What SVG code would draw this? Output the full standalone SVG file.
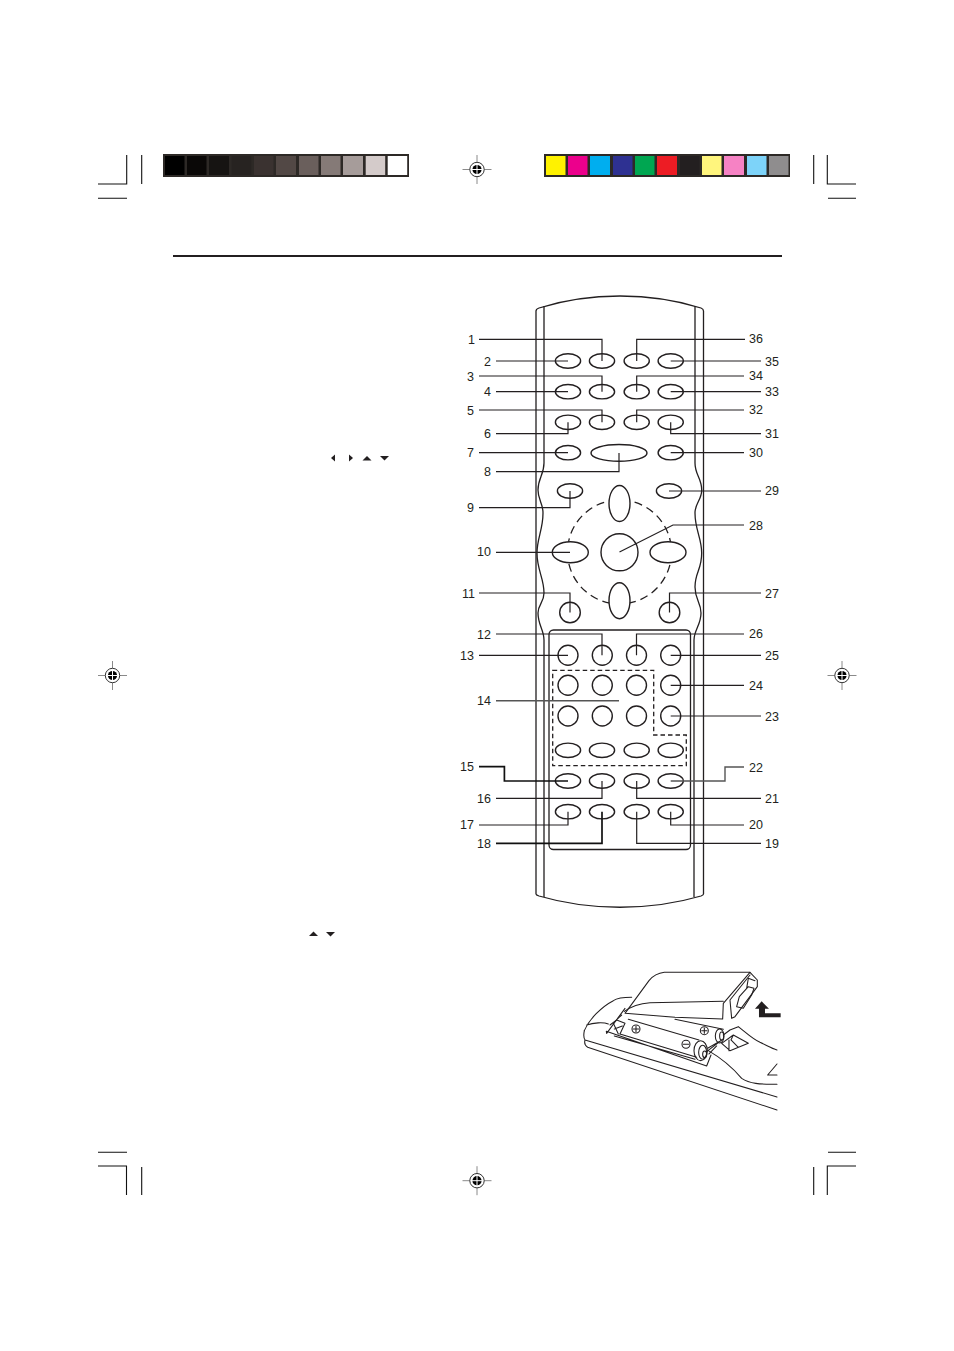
<svg xmlns="http://www.w3.org/2000/svg" width="954" height="1351" viewBox="0 0 954 1351">
<style>
text{font-family:"Liberation Sans",Arial,sans-serif;font-size:12.5px;fill:#231f20}
.l{text-anchor:end}
.s{fill:none;stroke:#231f20;stroke-width:1.3}
.b{fill:#fff;stroke:#231f20;stroke-width:1.4}
.c{fill:none;stroke:#231f20;stroke-width:1.2}
.k{fill:none;stroke:#111;stroke-width:1.7}
.g{fill:none;stroke:#555;stroke-width:1.4}
.m{fill:none;stroke:#111;stroke-width:1.1}
.t{fill:#231f20}
.d{fill:none;stroke:#231f20;stroke-width:1.3;stroke-dasharray:8 5}
.p{fill:none;stroke:#231f20;stroke-width:1.3;stroke-dasharray:4.5 3}
.i{fill:none;stroke:#231f20;stroke-width:3.2;stroke-linejoin:round;stroke-linecap:round}
.w{fill:#fff;stroke:#231f20;stroke-width:3.2;stroke-linejoin:round;stroke-linecap:round}
</style>
<defs>
<g id="reg">
<path d="M-14.5 0H14.5M0-14.5V14.5" fill="none" stroke="#8a8a8a" stroke-width="1"/>
<circle r="7.2" fill="#fff" stroke="#333" stroke-width="1"/>
<circle r="4.6" fill="#000"/>
<path d="M-5 0H5M0-5V5" stroke="#fff" stroke-width="1"/>
</g>
<ellipse id="e" rx="12.6" ry="7.2" class="b"/>
<circle id="o" r="10" class="b"/>
</defs>

<g id="print-marks">
<path class="m" d="M98 184H126.7V155M141.7 155V184M98 198.3H127M813.7 155V184M827.3 155V184H856M828 198.3H856M98 1152.3H127M98 1166H126.5V1195M141.7 1167V1195M813.7 1167V1195M856 1152.3H828M856 1166H827.3V1195"/>
<use href="#reg" x="477" y="169.5"/>
<use href="#reg" x="477" y="1180.7"/>
<use href="#reg" x="112.5" y="675.5"/>
<use href="#reg" x="842" y="675.5"/>
</g>

<g id="gray-bar">
<rect x="163" y="154" width="246" height="23" fill="#2d2926"/>
<rect x="165" y="156" width="19.5" height="19" fill="#000"/>
<rect x="187" y="156" width="19.5" height="19" fill="#0a0807"/>
<rect x="209" y="156" width="20" height="19" fill="#161412"/>
<rect x="231.7" y="156" width="19.5" height="19" fill="#272321"/>
<rect x="254" y="156" width="19.5" height="19" fill="#3a3230"/>
<rect x="276" y="156" width="20" height="19" fill="#524845"/>
<rect x="299" y="156" width="19.5" height="19" fill="#6a5f5c"/>
<rect x="321" y="156" width="19.5" height="19" fill="#857a77"/>
<rect x="343" y="156" width="20" height="19" fill="#a69c9a"/>
<rect x="365.7" y="156" width="19.5" height="19" fill="#d4cbca"/>
<rect x="387.7" y="156" width="19.5" height="19" fill="#fff"/>
</g>
<g id="color-bar">
<rect x="544" y="154" width="246" height="23" fill="#2d2926"/>
<rect x="546" y="156" width="19.5" height="19" fill="#fff200"/>
<rect x="568" y="156" width="19.5" height="19" fill="#ec008c"/>
<rect x="590" y="156" width="20" height="19" fill="#00aeef"/>
<rect x="613" y="156" width="19.5" height="19" fill="#2e3192"/>
<rect x="635" y="156" width="19.5" height="19" fill="#00a651"/>
<rect x="657" y="156" width="20" height="19" fill="#ed1c24"/>
<rect x="680" y="156" width="19.5" height="19" fill="#231f20"/>
<rect x="702" y="156" width="19.5" height="19" fill="#fff57d"/>
<rect x="724" y="156" width="20" height="19" fill="#f682c4"/>
<rect x="747" y="156" width="19.5" height="19" fill="#7dd3f9"/>
<rect x="769" y="156" width="19.5" height="19" fill="#8f8d8e"/>
</g>

<rect id="rule" x="173" y="255" width="609" height="2" fill="#231f20"/>

<g id="arrow-glyphs">
<polygon class="t" points="331,458 335,454.5 335,461.5"/>
<polygon class="t" points="349,454.5 353,458 349,461.5"/>
<polygon class="t" points="362.5,460.5 367,456 371.5,460.5"/>
<polygon class="t" points="380,456 389,456 384.5,460.5"/>
<polygon class="t" points="309,936 313.5,931.5 318,936"/>
<polygon class="t" points="326,932 335,932 330.5,936.5"/>
</g>

<g id="remote-body">
<path class="s" d="M536 894V311Q536 309 539 308C590 292 650 292 701 308Q703.5 309 703.5 311V894"/>
<path class="s" d="M536 894Q536 895 539 896C590 911 650 911 701 896Q703.5 895 703.5 894"/>
<path class="s" d="M544 306V463C544 475 538 478 538 490C538 500 543 503 543 513C543 530 537 538 537 553C537 570 544 578 544 593C544 603 538 604 538 613C538 625 544 630 544 640V897"/>
<path class="s" d="M695 306V463C695 475 701.7 478 701.7 490C701.7 500 695 503 695 513C695 530 701.7 538 701.7 553C701.7 570 695 572 695 587C695 600 701 602 701 613C701 625 694 630 694 640V897"/>
<rect class="s" x="549" y="630" width="141.5" height="219.5" rx="4.5"/>
<circle class="d" cx="619.5" cy="552" r="52"/>
<path class="p" d="M552.7 670.3H653.7V735H686.3V765.7H552.7Z"/>
</g>

<g id="buttons" fill="none">
<g id="row-1"><use href="#e" x="568" y="361"/><use href="#e" x="602" y="361"/><use href="#e" x="636.7" y="361"/><use href="#e" x="670.7" y="361"/></g>
<g id="row-2"><use href="#e" x="568" y="391.7"/><use href="#e" x="602" y="391.7"/><use href="#e" x="636.7" y="391.7"/><use href="#e" x="670.7" y="391.7"/></g>
<g id="row-3"><use href="#e" x="568" y="422.3"/><use href="#e" x="602" y="422.3"/><use href="#e" x="636.7" y="422.3"/><use href="#e" x="670.7" y="422.3"/></g>
<g id="row-4"><use href="#e" x="568" y="452.7"/><ellipse class="b" cx="619" cy="452.9" rx="28" ry="8.4"/><use href="#e" x="670.7" y="452.7"/></g>
<g id="nav">
<use href="#e" x="570" y="491"/><use href="#e" x="669" y="491"/>
<ellipse class="b" cx="619.5" cy="503.5" rx="10.5" ry="18"/>
<ellipse class="b" cx="619.5" cy="600.7" rx="10.5" ry="18"/>
<ellipse class="b" cx="570.3" cy="552.3" rx="18" ry="10.5"/>
<ellipse class="b" cx="668" cy="552.3" rx="18" ry="10.5"/>
<circle class="b" cx="619.5" cy="552.3" r="18.5"/>
<circle class="b" cx="570" cy="612.5" r="10.3"/>
<circle class="b" cx="669.5" cy="612.5" r="10.3"/>
</g>
<g id="keypad">
<use href="#o" x="568" y="655.3"/><use href="#o" x="602.3" y="655.3"/><use href="#o" x="636.5" y="655.3"/><use href="#o" x="670.7" y="655.3"/>
<use href="#o" x="568" y="685.3"/><use href="#o" x="602.3" y="685.3"/><use href="#o" x="636.5" y="685.3"/><use href="#o" x="670.7" y="685.3"/>
<use href="#o" x="568" y="716"/><use href="#o" x="602.3" y="716"/><use href="#o" x="636.5" y="716"/><use href="#o" x="670.7" y="716"/>
<use href="#e" x="568" y="750.3"/><use href="#e" x="602" y="750.3"/><use href="#e" x="636.7" y="750.3"/><use href="#e" x="670.7" y="750.3"/>
<use href="#e" x="568" y="781"/><use href="#e" x="602" y="781"/><use href="#e" x="636.7" y="781"/><use href="#e" x="670.7" y="781"/>
<use href="#e" x="568" y="811.7"/><use href="#e" x="602" y="811.7"/><use href="#e" x="636.7" y="811.7"/><use href="#e" x="670.7" y="811.7"/>
</g>
</g>

<g id="connectors">
<path class="c" d="M479 339.3H602V361M745 339.3H636.7V361"/>
<path class="c" d="M496 361H568M761 361H670.7"/>
<path class="c" d="M479 376H602V391.7M744 376H636.7V391.7"/>
<path class="c" d="M496 391.7H568M761 391.7H670.7"/>
<path class="c" d="M479 410H602V422.3M744 410H636.7V422.3"/>
<path class="c" d="M496 433.7H568V422.3M761 433.7H670.7V422.3"/>
<path class="c" d="M479 452.7H568M744 452.7H670.7"/>
<path class="c" d="M496 471.7H619V453"/>
<path class="c" d="M479 507.7H570V491M761 491H669"/>
<path class="c" d="M744 525H673L619.5 552"/>
<path class="c" d="M496 552.3H570"/>
<path class="c" d="M479 593H570V612.5M761 593H669.5V612.5"/>
<path class="c" d="M496 634H602V655.3M744 634H636.5V655.3"/>
<path class="c" d="M479 655.3H568M761 655.3H670.7"/>
<path class="g" d="M496 700.7H619"/>
<path class="c" d="M744 685.3H670.7M761 716H670.7"/>
<path class="k" d="M479 766.7H504.4V781H568"/>
<path class="g" d="M744 767H725V781H670.7"/>
<path class="c" d="M496 798.3H602V781M761 798.3H636.7V781"/>
<path class="c" d="M479 825H568V811.7M744 825H670.7V811.7"/>
<path class="k" d="M496 843.3H602V811.7"/>
<path class="c" d="M761 843.3H636.7V811.7"/>
</g>

<g id="labels">
<text class="l" x="475" y="343.8">1</text>
<text class="l" x="491" y="365.5">2</text>
<text class="l" x="474" y="380.5">3</text>
<text class="l" x="491" y="396.2">4</text>
<text class="l" x="474" y="414.5">5</text>
<text class="l" x="491" y="438">6</text>
<text class="l" x="474" y="457">7</text>
<text class="l" x="491" y="476.2">8</text>
<text class="l" x="474" y="512.2">9</text>
<text class="l" x="491" y="556.2">10</text>
<text class="l" x="475" y="597.5">11</text>
<text class="l" x="491" y="638.5">12</text>
<text class="l" x="474" y="659.5">13</text>
<text class="l" x="491" y="705">14</text>
<text class="l" x="474" y="771">15</text>
<text class="l" x="491" y="802.5">16</text>
<text class="l" x="474" y="829">17</text>
<text class="l" x="491" y="847.5">18</text>
<text x="765" y="847.5">19</text>
<text x="749" y="829">20</text>
<text x="765" y="802.5">21</text>
<text x="749" y="771.5">22</text>
<text x="765" y="720.5">23</text>
<text x="749" y="690">24</text>
<text x="765" y="660">25</text>
<text x="749" y="638">26</text>
<text x="765" y="597.5">27</text>
<text x="749" y="529.8">28</text>
<text x="765" y="495">29</text>
<text x="749" y="457">30</text>
<text x="765" y="438">31</text>
<text x="749" y="414">32</text>
<text x="765" y="396.2">33</text>
<text x="749" y="380">34</text>
<text x="765" y="365.5">35</text>
<text x="749" y="343.2">36</text>
</g>

<g id="battery-illustration" transform="translate(575 960) scale(0.3333)">
<path class="i" d="M28 212C42 178 80 140 115 122Q130 112 170 112M35 195C55 188 85 186 100 192"/>
<path class="i" d="M28 212Q24 232 30 240L606 411M30 240Q26 255 38 262L606 450"/>
<path class="i" d="M95 220L150 145M95 220L94 214L395 318L408 285M118 228L360 298M135 222L365 292"/>
<path class="i" d="M160 178L372 240M300 178L445 208"/>
<path class="i" d="M105 195L125 180L150 190L135 222M118 207L142 198M115 190L130 222M128 176L140 165"/>
<circle class="i" cx="183" cy="207" r="12"/><path class="i" d="M175 207H191M183 199V215"/>
<circle class="i" cx="388" cy="212" r="12"/><path class="i" d="M380 212H396M388 204V220"/>
<circle class="i" cx="333" cy="253" r="12"/><path class="i" d="M325 253H341"/>
<ellipse class="i" cx="377" cy="272" rx="20" ry="30"/><ellipse class="i" cx="383" cy="277" rx="12" ry="21"/><ellipse class="i" cx="389" cy="283" rx="6" ry="10"/>
<ellipse class="i" cx="434" cy="228" rx="13" ry="21"/><ellipse class="i" cx="440" cy="228" rx="6" ry="12"/>
<path class="i" d="M395 275L440 240M398 265L432 245M402 282L425 258"/>
<path class="i" d="M400 272C440 295 470 320 500 355C530 375 570 372 606 373"/>
<path class="i" d="M445 225L465 210L490 200C510 215 530 235 555 247C575 256 590 265 606 270"/>
<path class="i" d="M440 250L475 225L520 250L465 272L440 250ZM462 240L462 272M475 225L468 240L490 262"/>
<path class="i" d="M606 312L578 345L606 345"/>
<path class="w" d="M150 160L222 62Q240 40 268 37H525L445 130L443 177L300 172Z"/>
<path class="i" d="M148 154Q178 132 225 128L445 124"/>
<path class="i" d="M525 37L547 60L547 80L480 170L470 175L465 120L525 45"/>
<path class="i" d="M493 110L520 80L537 85L530 105L505 145L485 140ZM515 85L520 55L540 62"/>
<polygon fill="#231f20" points="560,124 582,146 570,146 570,160 617,160 617,172 552,172 552,146 540,146"/>
</g>
</svg>
